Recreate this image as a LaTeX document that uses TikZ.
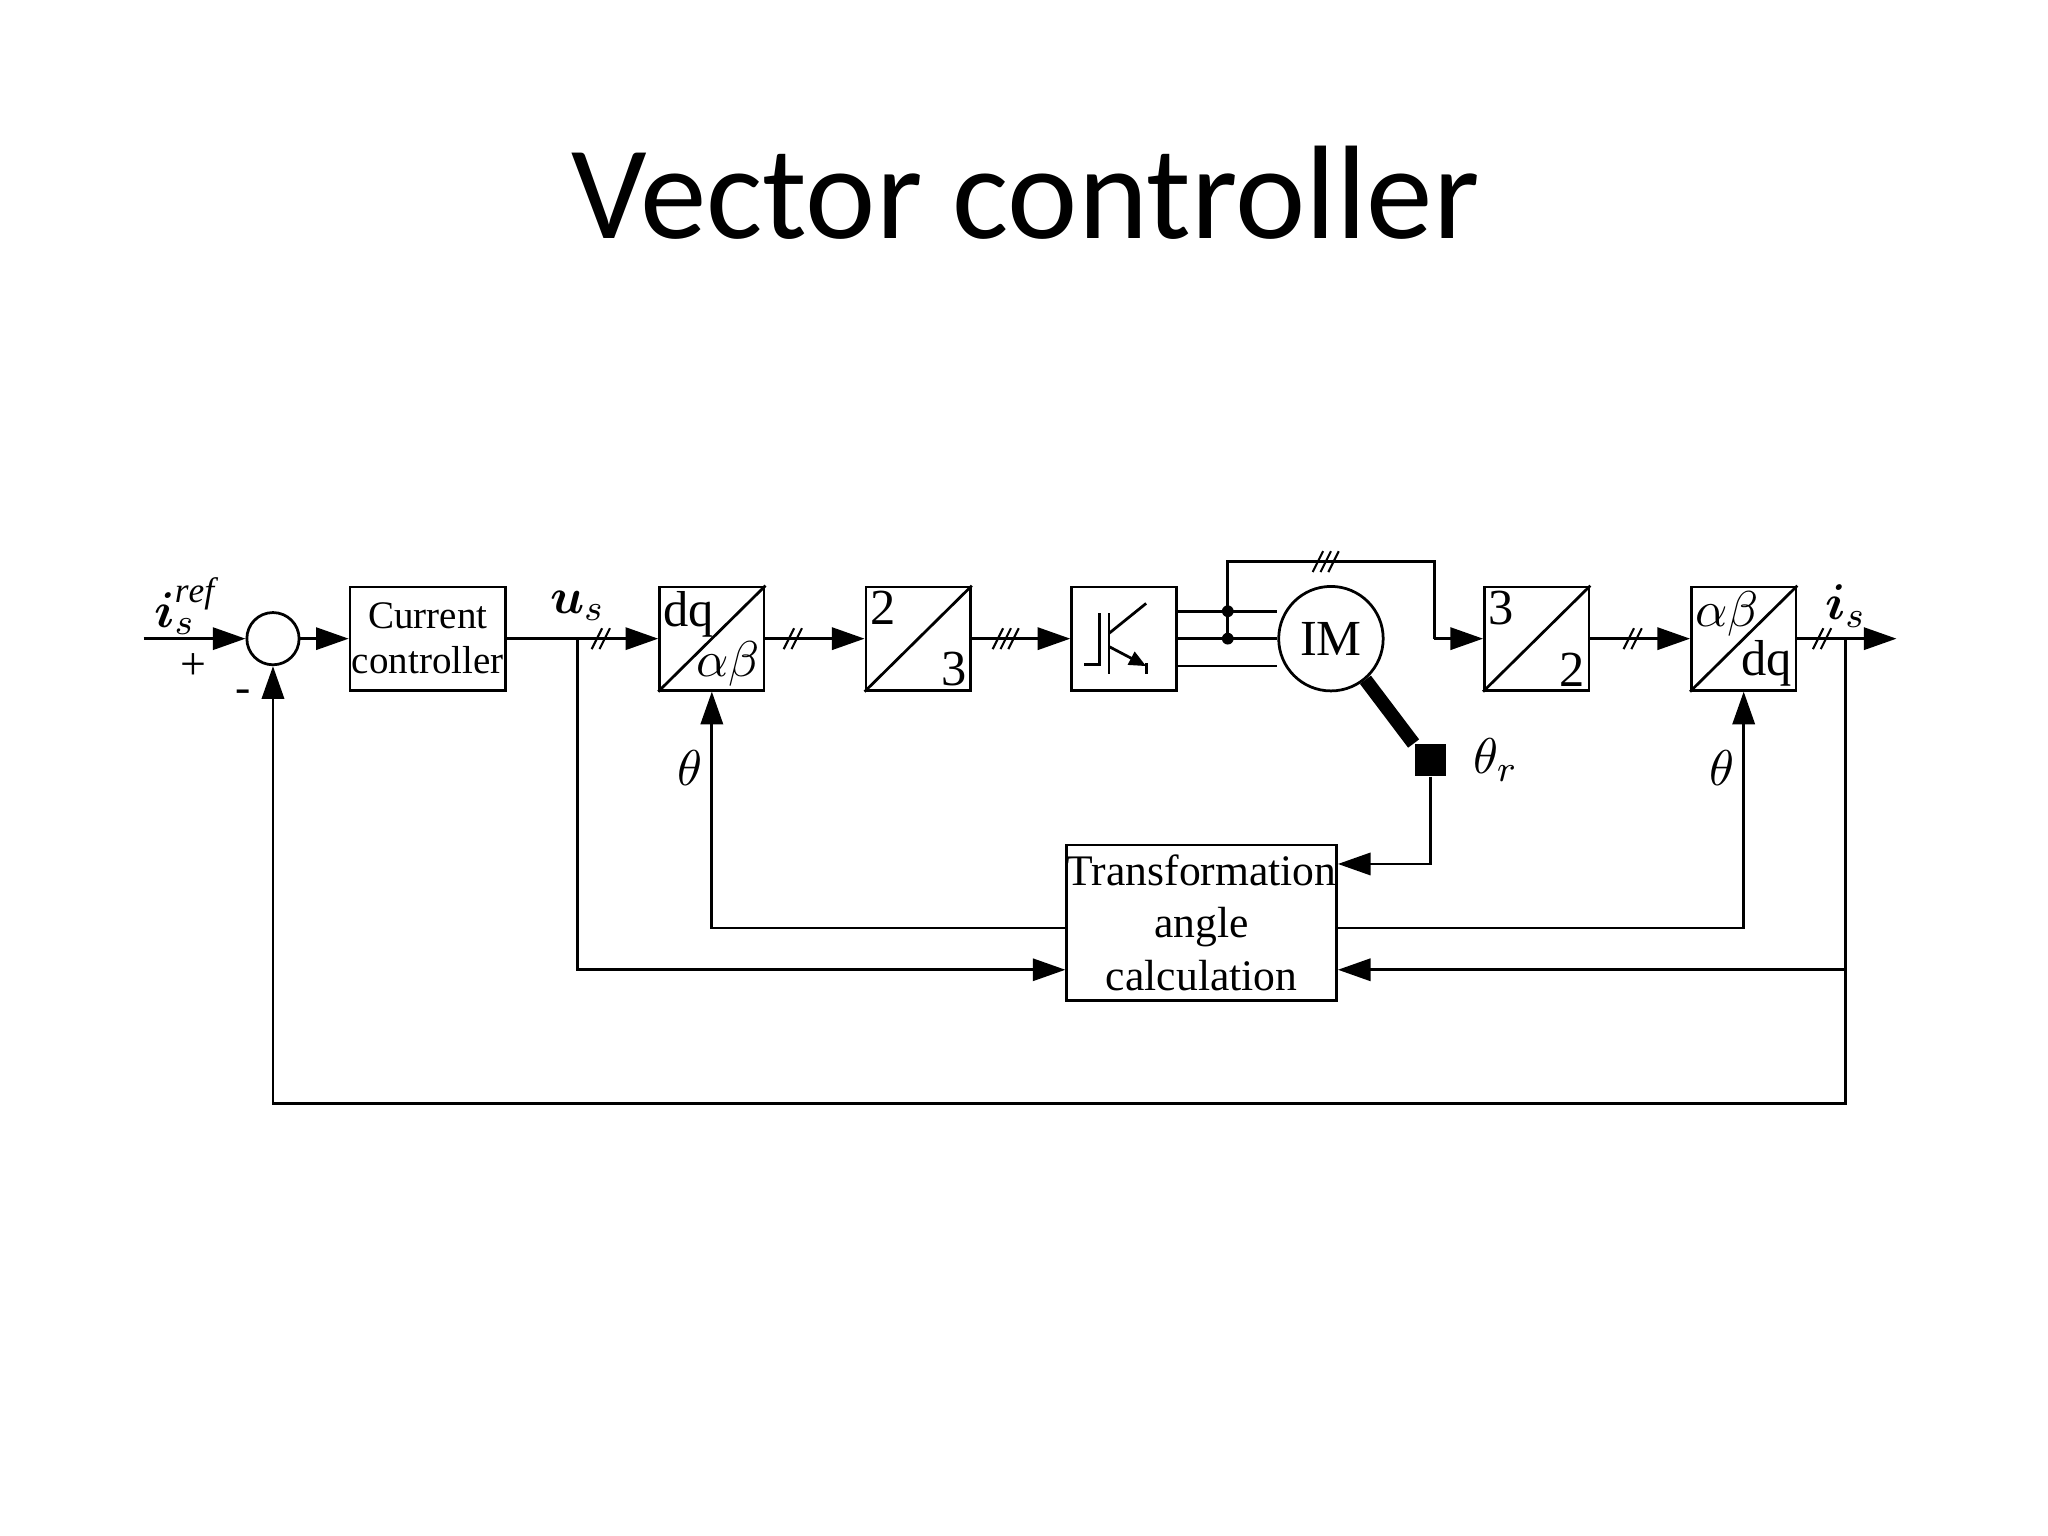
\documentclass[tikz,border=0pt]{standalone}
\usepackage{amsmath}
\usepackage{bm}
\usepackage{fontspec}
\setmainfont{Liberation Serif}
\newfontfamily\titlefont{Carlito}
\usetikzlibrary{arrows.meta,positioning,calc}
\tikzset{
  blk/.style={draw,line width=0.6pt,minimum width=1.19cm,minimum height=0.79cm,
    inner sep=0pt,align=center,font=\fontsize{8.5}{9.8}\selectfont},
  conv/.style={blk,minimum width=0.8cm},
  sig/.style={line width=0.6pt,-{Triangle[length=2.5mm,width=1.7mm]}},
  wire/.style={line width=0.6pt},
  lbl/.style={font=\fontsize{11}{12}\selectfont},
  bus/.pic={\foreach \k in {1,...,#1}{\draw[line width=0.45pt] ($(\k*0.06-0.03*#1-0.07,-0.08)$) -- ++(0.08,0.16);}}
}
\newcommand{\convlabels}[3]{%
  \draw[line width=0.6pt] (#1.south west) -- (#1.north east);
  \node[lbl,anchor=north west,inner sep=1pt] at (#1.north west) {#2};
  \node[lbl,anchor=south east,inner sep=1pt] at (#1.south east) {#3};}
\begin{document}
\begin{tikzpicture}
\useasboundingbox (0,0) rectangle (15.68,11.76);
\node[font=\titlefont\fontsize{29}{34}\selectfont] at (7.85,10.28) {Vector controller};

% forward path
\coordinate (in) at (1.10,6.87);
\node[draw,circle,line width=0.6pt,minimum size=0.4cm,inner sep=0pt] (sum) at (2.09,6.87) {};
\node[blk] (cc) at (3.275,6.87) {Current\\controller};
\node[conv] (dqab) at (5.45,6.87) {};
\node[conv] (two) at (7.03,6.87) {};
\node[conv] (inv) at (8.605,6.87) {};
\node[draw,circle,line width=0.6pt,minimum size=0.8cm,inner sep=0pt,font=\fontsize{11}{12}\selectfont] (im) at (10.19,6.87) {IM};
\node[conv] (three) at (11.765,6.87) {};
\node[conv] (abdq) at (13.35,6.87) {};
\node[blk,minimum width=1.98cm,minimum height=1.19cm,font=\fontsize{9.5}{11.5}\selectfont] (tac) at (9.20,4.695) {Transformation\\angle\\calculation};
\coordinate (out) at (14.52,6.87);

\convlabels{dqab}{dq}{$\alpha\beta$}
\convlabels{two}{2}{3}
\convlabels{three}{3}{2}
\convlabels{abdq}{$\alpha\beta$}{dq}

\draw[sig] (in) -- (sum);
\draw[sig] (sum) -- (cc);
\draw[sig] (cc) -- (dqab);
\draw[sig] (dqab) -- (two);
\draw[sig] (two) -- (inv);
\draw[sig] (three) -- (abdq);
\draw[sig] (abdq) -- (out);
\pic at (4.60,6.87) {bus=2};
\pic at (6.07,6.87) {bus=2};
\pic at (7.70,6.87) {bus=3};
\pic at (12.50,6.87) {bus=2};
\pic at (13.95,6.87) {bus=2};

% inverter symbol
\draw[wire] (8.30,6.67) -- (8.42,6.67) -- (8.42,7.07);
\draw[wire] (8.49,6.60) -- (8.49,7.07);
\draw[wire] (8.49,6.91) -- (8.775,7.14);
\draw[wire,-{Triangle[length=1.3mm,width=1.1mm]}] (8.49,6.81) -- (8.775,6.66);
\draw[wire] (8.775,6.68) -- (8.775,6.60);

% phase wires and measurement
\foreach \y in {7.08,6.87,6.66}
  \draw[wire] (inv.east |- 0,\y) -- (im.west |- 0,\y);
\coordinate (ta) at (9.40,7.08);
\coordinate (tb) at (9.40,6.87);
\fill (ta) circle (0.045) (tb) circle (0.045);
\coordinate (tc) at (10.98,6.87);
\draw[wire] (tb) -- (9.40,7.46) -- (10.98,7.46) -- (tc);
\draw[sig] (tc) -- (three);
\pic at (10.15,7.46) {bus=3};

% shaft and encoder
\node[fill,minimum size=0.24cm,inner sep=0pt] (enc) at (10.95,5.94) {};
\draw[line width=3pt] (im.-50) -- (enc.north west);
\node[lbl,right=0.08cm of enc] {$\theta_r$};
\draw[sig] (enc) |- ([yshift=0.45cm]tac.east);

% angle outputs
\draw[sig] ([yshift=-0.04cm]tac.west) -| (dqab.south);
\draw[sig] ([yshift=-0.04cm]tac.east) -| (abdq.south);
\node[lbl] at (5.28,5.88) {$\theta$};
\node[lbl] at (13.18,5.88) {$\theta$};

% measured signals
\coordinate (us) at (4.42,6.87);
\coordinate (is) at (14.13,6.87);
\draw[sig] (us) |- ([yshift=-0.36cm]tac.west);
\draw[sig] (is) |- ([yshift=-0.36cm]tac.east);
\draw[sig] (is) -- (14.13,3.31) -| (sum.south);

% labels
\node[lbl] at (1.42,7.12) {$\bm{i}_s^{\mathit{ref}}$};
\node[font=\fontsize{10}{11}\selectfont] at (1.48,6.66) {+};
\node[font=\fontsize{10}{11}\selectfont] at (1.86,6.43) {-};
\node[lbl] at (4.42,7.12) {$\bm{u}_s$};
\node[lbl] at (14.13,7.12) {$\bm{i}_s$};
\end{tikzpicture}
\end{document}
